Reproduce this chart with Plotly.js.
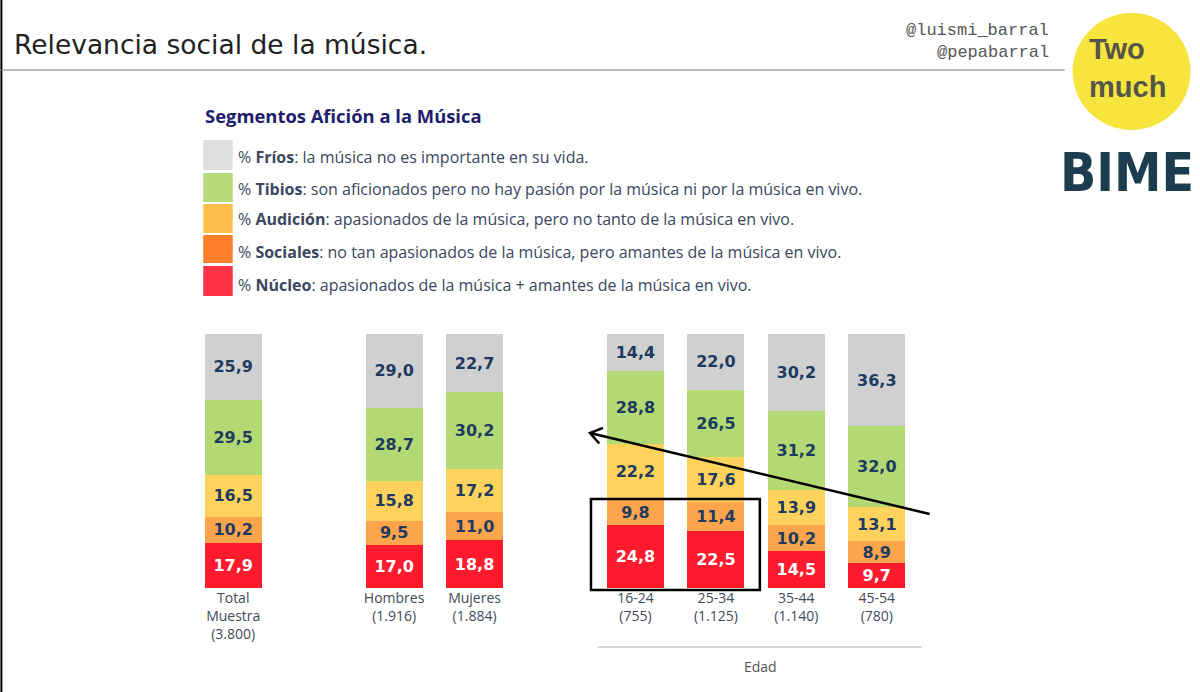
<!DOCTYPE html>
<html><head><meta charset="utf-8">
<script src="https://cdn.plot.ly/plotly-3.0.1.min.js"></script>
<style>html,body{margin:0;padding:0;background:#fff;}#chart{width:1200px;height:692px;}</style>
</head><body><div id="chart"></div>
<script>
// ---- data ----
const categories = ['Total','Hombres','Mujeres','16-24','25-34','35-44','45-54'];
const positions = [0, 2, 3, 5, 6, 7, 8];
const tickLabels = ['Total<br>Muestra<br>(3.800)','Hombres<br>(1.916)','Mujeres<br>(1.884)','16-24<br>(755)','25-34<br>(1.125)','35-44<br>(1.140)','45-54<br>(780)'];
const nucleo   = [17.9, 17.0, 18.8, 24.8, 22.5, 14.5, 9.7];
const sociales = [10.2, 9.5, 11.0, 9.8, 11.4, 10.2, 8.9];
const audicion = [16.5, 15.8, 17.2, 22.2, 17.6, 13.9, 13.1];
const tibios   = [29.5, 28.7, 30.2, 28.8, 26.5, 31.2, 32.0];
const frios    = [25.9, 29.0, 22.7, 14.4, 22.0, 30.2, 36.3];
const segmentNames = ['Núcleo','Sociales','Audición','Tibios','Fríos'];
const legendNames = ['Fríos','Tibios','Audición','Sociales','Núcleo'];
const legendDescs = [': la música no es importante en su vida.',
  ': son aficionados pero no hay pasión por la música ni por la música en vivo.',
  ': apasionados de la música, pero no tanto de la música en vivo.',
  ': no tan apasionados de la música, pero amantes de la música en vivo.',
  ': apasionados de la música + amantes de la música en vivo.'];

// ---- styling ----
const barColors = ['#ff1a2e','#fca54d','#fed35d','#b3d974','#d0d0d0'];
const legendColors = ['#dedede','#b5da7b','#ffc04b','#ff7f2a','#ff3347'];
const labelColors = ['#ffffff','#1f3a5f','#1f3a5f','#1f3a5f','#1f3a5f'];

const L = 192.75, R = 282.75, T = 334, B = 104, Wd = 1200, Ht = 692;
const PW = Wd - L - R, PH = Ht - T - B;
const px = x => (x - L) / PW;
const py = y => (Ht - B - y) / PH;
const fmt = v => v.toFixed(1).replace('.', ',');

const series = [nucleo, sociales, audicion, tibios, frios];
const traces = series.map((vals, i) => ({
  type: 'bar', x: positions, y: vals, name: segmentNames[i],
  width: 0.71,
  marker: {color: barColors[i], line: {width: 0}},
  text: vals.map(fmt), textposition: 'inside', insidetextanchor: 'middle',
  textangle: 0, constraintext: 'none',
  textfont: {family: 'DejaVu Sans', size: 16, color: labelColors[i], weight: 'bold'},
  hoverinfo: 'skip'
}));

const shapes = [];
const annotations = [];

// left black strip and header rule
shapes.push({type:'rect', xref:'paper', yref:'paper', x0:px(0), x1:px(2), y0:py(0), y1:py(692), fillcolor:'#000', line:{width:0}, layer:'above'});
shapes.push({type:'line', xref:'paper', yref:'paper', x0:px(0), x1:px(1065), y0:py(70), y1:py(70), line:{color:'#777', width:1.2}});

// title
annotations.push({xref:'paper', yref:'paper', x:px(12), y:py(45), xanchor:'left', yanchor:'middle', showarrow:false,
  text:'Relevancia social de la música.', font:{family:'DejaVu Sans', size:26.5, color:'#222'}});
// handles
annotations.push({xref:'paper', yref:'paper', x:px(1051), y:py(30), xanchor:'right', yanchor:'middle', showarrow:false,
  text:'@luismi_barral', font:{family:'Liberation Mono', size:17, color:'#555'}});
annotations.push({xref:'paper', yref:'paper', x:px(1051), y:py(52), xanchor:'right', yanchor:'middle', showarrow:false,
  text:'@pepabarral', font:{family:'Liberation Mono', size:17, color:'#555'}});

// Two much logo
shapes.push({type:'circle', xref:'paper', yref:'paper', x0:px(1073), x1:px(1191), y0:py(13), y1:py(130), fillcolor:'#f7e43c', line:{width:0}});
annotations.push({xref:'paper', yref:'paper', x:px(1087), y:py(68), xanchor:'left', yanchor:'middle', align:'left', showarrow:false,
  text:'<b>Two</b><br><b>much</b>', font:{family:'Liberation Sans', size:29, color:'#55554a'}});
// BIME logo
annotations.push({xref:'paper', yref:'paper', x:px(1127), y:py(172), xanchor:'center', yanchor:'middle', showarrow:false,
  text:'<b>BIME</b>', font:{family:'DejaVu Sans Condensed', size:53, color:'#1c3d4f'}});
[[1062,150,1150,200],[1080,145,1190,185],[1100,200,1170,145],[1062,175,1192,160]].forEach(s=>{
  shapes.push({type:'line', xref:'paper', yref:'paper', x0:px(s[0]), y0:py(s[1]), x1:px(s[2]), y1:py(s[3]), line:{color:'rgba(255,255,255,0.8)', width:1}, layer:'above'});
});

// legend block
annotations.push({xref:'paper', yref:'paper', x:px(203), y:py(115), xanchor:'left', yanchor:'middle', showarrow:false,
  text:'<b>Segmentos Afición a la Música</b>', font:{family:'Open Sans', size:18.4, color:'#1d1d6b'}});
const boxes = [[140,170],[173,202],[204,233],[235,263],[266,296]];
const textY = [157, 189, 219, 252, 285];
legendNames.forEach((n, i) => {
  shapes.push({type:'rect', xref:'paper', yref:'paper', x0:px(203), x1:px(232.5), y0:py(boxes[i][0]), y1:py(boxes[i][1]), fillcolor:legendColors[i], line:{width:0}});
  annotations.push({xref:'paper', yref:'paper', x:px(236), y:py(textY[i]), xanchor:'left', yanchor:'middle', showarrow:false,
    text:'% <b>' + n + '</b>' + legendDescs[i], font:{family:'Open Sans', size:16, color:'#3a4660'}});
});

// Edad line + label
shapes.push({type:'line', xref:'paper', yref:'paper', x0:px(598), x1:px(922), y0:py(647), y1:py(647), line:{color:'#c8c8c8', width:1.5}});
annotations.push({xref:'paper', yref:'paper', x:px(761), y:py(666), xanchor:'center', yanchor:'middle', showarrow:false,
  text:'Edad', font:{family:'Open Sans', size:14, color:'#555'}});

// highlight box
shapes.push({type:'rect', xref:'paper', yref:'paper', x0:px(591), x1:px(760), y0:py(499), y1:py(590), line:{color:'#000', width:2.5}, fillcolor:'rgba(0,0,0,0)', layer:'above'});

// arrow
(function(){
  const tx = 930, ty = 514, hx = 590, hy = 433;
  const dx = tx - hx, dy = ty - hy, len = Math.hypot(dx, dy);
  const ux = dx/len, uy = dy/len, a = 35*Math.PI/180, al = 14;
  const r = (ang) => [hx + al*(ux*Math.cos(ang) - uy*Math.sin(ang)), hy + al*(ux*Math.sin(ang) + uy*Math.cos(ang))];
  const p1 = r(a), p2 = r(-a);
  const path = `M${px(tx)},${py(ty)} L${px(hx)},${py(hy)} M${px(p1[0])},${py(p1[1])} L${px(hx)},${py(hy)} L${px(p2[0])},${py(p2[1])}`;
  shapes.push({type:'path', xref:'paper', yref:'paper', path:path, line:{color:'#000', width:2.5}, layer:'above'});
})();

const layout = {
  width: Wd, height: Ht,
  margin: {l: L, r: R, t: T, b: B, pad: 0},
  paper_bgcolor: '#ffffff', plot_bgcolor: 'rgba(0,0,0,0)',
  barmode: 'stack', showlegend: false,
  font: {family: 'Open Sans', color: '#404a5a'},
  xaxis: {range: [-0.5, 8.5], tickvals: positions, ticktext: tickLabels, showgrid: false, zeroline: false,
          showline: false, ticks: '', tickfont: {family: 'Open Sans', size: 14, color: '#404a5a'}, fixedrange: true},
  yaxis: {range: [0, 100], visible: false, fixedrange: true},
  shapes: shapes, annotations: annotations
};

Plotly.newPlot('chart', traces, layout, {displayModeBar: false, staticPlot: true});
</script></body></html>
